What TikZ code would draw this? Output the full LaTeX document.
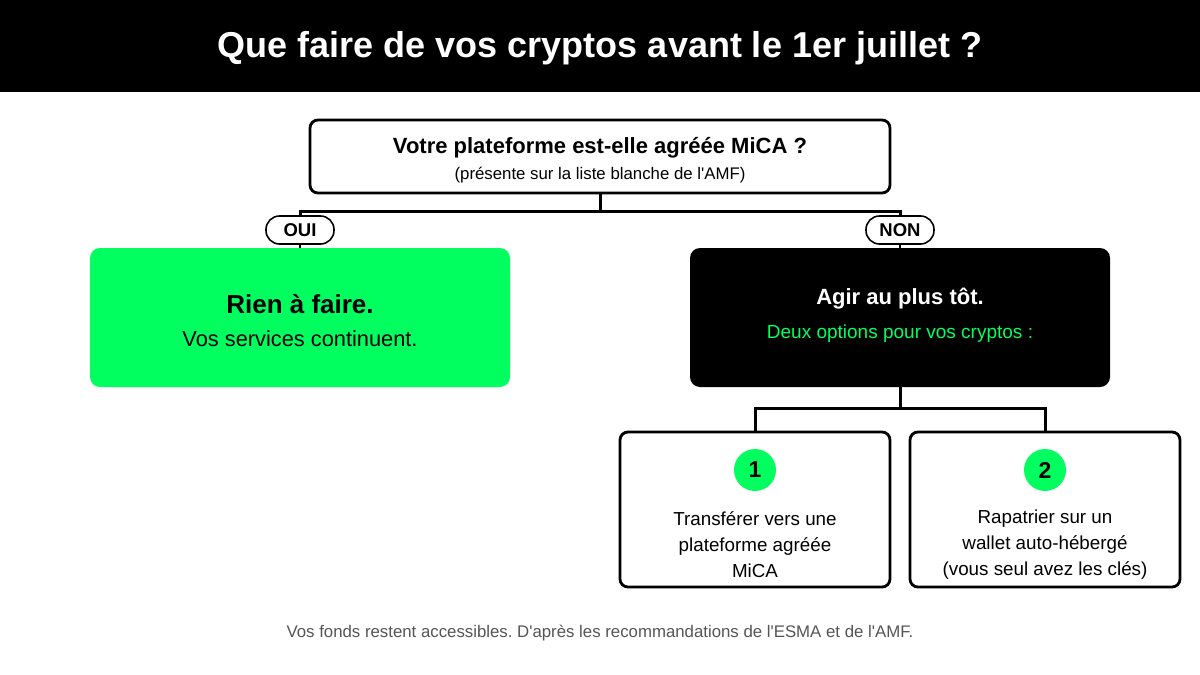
\documentclass[tikz,border=0pt]{standalone}
\usepackage{fontspec}
\setmainfont{Liberation Sans}[Ligatures=TeXOff]
\definecolor{neon}{HTML}{00FF5F}
\definecolor{foot}{HTML}{555555}
\newcommand{\fsz}[2]{\fontsize{#1}{#2}\selectfont}
\frenchspacing
\begin{document}
\begin{tikzpicture}[x=1pt,y=-1pt,
  card/.style={draw=black,line width=2.8pt,rounded corners=8pt,fill=white,inner sep=0pt},
  pill/.style={draw=black,line width=1.6pt,rounded corners=13.5pt,fill=white,minimum width=68pt,minimum height=28pt,inner sep=0pt,font=\fsz{18.5}{20}\bfseries},
  wire/.style={line width=3pt},
  badge/.style={circle,fill=neon,minimum size=42pt,inner sep=0pt,font=\fsz{23}{26}\bfseries},
  txt/.style={inner sep=0pt,align=center}]
\useasboundingbox (0,0) rectangle (1200,675);
% header
\fill[black] (0,0) rectangle (1200,92);
\node[txt,text=white,font=\fsz{36}{40}\bfseries] (title) at (600,48) {Que faire de vos cryptos avant le 1er juillet ?};
% question
\node[card,minimum width=580pt,minimum height=73pt] (q) at (600,156.5) {};
\node[txt,font=\fsz{22}{26}\bfseries] (qt) at (600,148) {Votre plateforme est-elle agréée MiCA ?};
\node[txt,font=\fsz{16.8}{20}] (qs) at (600,175.5) {(présente sur la liste blanche de l'AMF)};
% pills
\node[pill] (oui) at (300,230) {OUI};
\node[pill] (non) at (900,230) {NON};
\coordinate (j1) at (600,211);
\draw[wire] (q.south) -- (j1);
\draw[wire,line cap=rect] (oui.north) -- (oui.north |- j1) -- (non.north |- j1) -- (non.north);
% outcome boxes
\node[fill=neon,rounded corners=10pt,minimum width=420pt,minimum height=139pt,inner sep=0pt] (yes) at (300,317.5) {};
\node[fill=black,rounded corners=10pt,minimum width=420pt,minimum height=139pt,inner sep=0pt] (no) at (900,317.5) {};
\draw[line width=1.6pt] (oui.south) -- (yes.north);
\draw[line width=1.6pt] (non.south) -- (no.north);
\node[txt,font=\fsz{26}{30}\bfseries] (yt) at (300,304) {Rien à faire.};
\node[txt,font=\fsz{21.8}{26}] (ys) at (300,339) {Vos services continuent.};
\node[txt,text=white,font=\fsz{22}{26}\bfseries] (nt) at (900,298.5) {Agir au plus tôt.};
\node[txt,text=neon,font=\fsz{19}{23}] (ns) at (900,333.5) {Deux options pour vos cryptos :};
% options
\node[card,minimum width=270pt,minimum height=155pt] (o1) at (755,509.5) {};
\node[card,minimum width=270pt,minimum height=155pt] (o2) at (1045,509.5) {};
\coordinate (j2) at (900,408);
\draw[wire] (no.south) -- (j2);
\draw[wire,line cap=rect] (o1.north) -- (o1.north |- j2) -- (o2.north |- j2) -- (o2.north);
\node[badge] (b1) at (755,470) {1};
\node[badge] (b2) at (1045,470) {2};
\node[txt,font=\fsz{18.8}{26}] (t1) at (755,545) {Transférer vers une\\plateforme agréée\\MiCA};
\node[txt,font=\fsz{18.8}{26}] (t2) at (1045,545) {Rapatrier sur un\\wallet auto-hébergé\\(vous seul avez les clés)};
% footer
\node[txt,text=foot,font=\fsz{16.8}{20}] (ft) at (600,633) {Vos fonds restent accessibles. D'après les recommandations de l'ESMA et de l'AMF.};
\end{tikzpicture}
\end{document}
